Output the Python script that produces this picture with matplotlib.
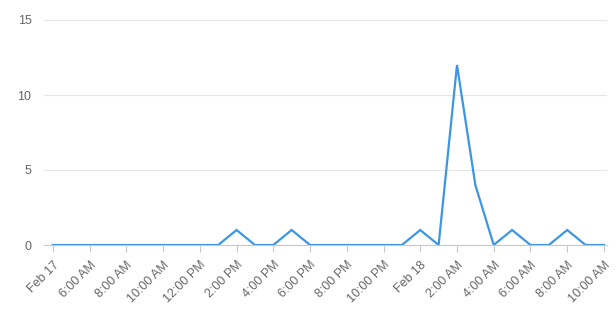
import matplotlib
matplotlib.use('Agg')
import matplotlib.pyplot as plt
import matplotlib.dates as mdates
import pandas as pd

# hourly counts, Feb 17 4:00 AM .. Feb 18 10:00 AM
start = '2024-02-17 04:00'
counts = [0, 0, 0, 0, 0, 0, 0, 0, 0, 0, 1, 0, 0, 1, 0, 0, 0, 0, 0, 0,
          1, 0, 12, 4, 0, 1, 0, 0, 1, 0, 0]
tickLabels = ['Feb 17', '6:00 AM', '8:00 AM', '10:00 AM', '12:00 PM', '2:00 PM',
              '4:00 PM', '6:00 PM', '8:00 PM', '10:00 PM', 'Feb 18', '2:00 AM',
              '4:00 AM', '6:00 AM', '8:00 AM', '10:00 AM']
yTicks = [0, 5, 10, 15]

times = pd.date_range(start, periods=len(counts), freq='h')
tickTimes = pd.date_range(start, periods=len(tickLabels), freq='2h')

plt.rcParams['font.family'] = ['Liberation Sans', 'DejaVu Sans']

fig = plt.figure(figsize=(6.16, 3.17), dpi=100)
ax = fig.add_axes([44/616, 72/317, 563/616, 225/317])

ax.plot(times, counts, color='#3d96e3', lw=1.6, solid_joinstyle='miter', clip_on=True)

ax.set_ylim(0, 15)
ax.set_yticks(yTicks)
ax.set_xlim(times[0] - pd.Timedelta(minutes=29), times[-1] + pd.Timedelta(minutes=10))
ax.set_xticks(mdates.date2num(tickTimes))
ax.set_xticklabels(tickLabels, rotation=45, ha='right', rotation_mode='anchor')

ax.grid(axis='y', color='#e6e6e6', lw=0.8)
ax.set_axisbelow(True)
for s in ['top', 'right', 'left']:
    ax.spines[s].set_visible(False)
ax.spines['bottom'].set_color('#c8c8c8')
ax.spines['bottom'].set_linewidth(0.8)
ax.tick_params(axis='x', colors='#c8c8c8', length=5, width=0.8, pad=5, labelcolor='#666666', labelsize=9)
ax.tick_params(axis='y', length=0, pad=9, labelcolor='#666666', labelsize=9)

fig.savefig('out.png', dpi=100)
